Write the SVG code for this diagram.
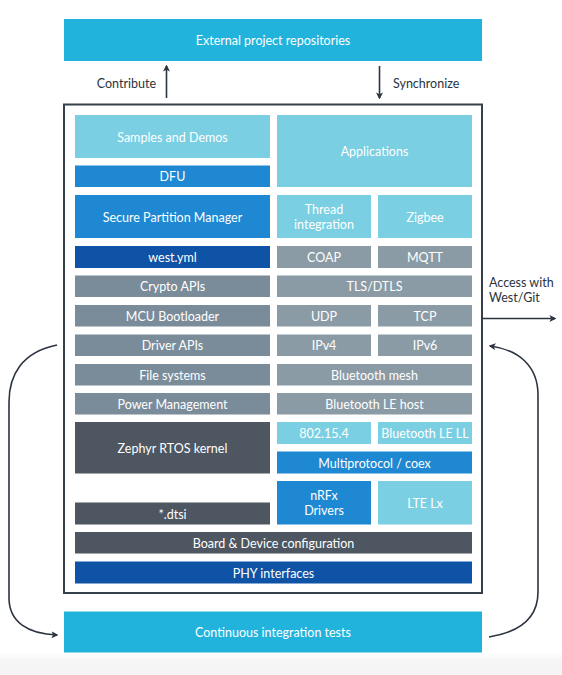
<svg xmlns="http://www.w3.org/2000/svg" width="562" height="675" viewBox="0 0 562 675">
<defs>
<marker id="ah" viewBox="0 0 10 10" refX="8" refY="5" markerWidth="7" markerHeight="7" markerUnits="userSpaceOnUse" orient="auto">
<path d="M0,0 L10,5 L0,10 L2.5,5 z" fill="#2b3440"/>
</marker>
<linearGradient id="band" x1="0" y1="0" x2="0" y2="1">
<stop offset="0" stop-color="#ffffff"/>
<stop offset="0.35" stop-color="#f6f6f6"/>
<stop offset="1" stop-color="#f5f5f5"/>
</linearGradient>
</defs>
<style>
text{font-family:"Lato","Liberation Sans",sans-serif;font-size:12.5px;text-anchor:middle;fill:#ffffff}
.lbl{fill:#2b333d;font-size:12.5px}
.cyan{fill:#22b3dc}
.lc{fill:#7acfe3}
.mb{fill:#1e88d2}
.db{fill:#0e53a5}
.g1{fill:#7a8c9a}
.g2{fill:#8a9ba6}
.ds{fill:#4d5661}
.conn{fill:none;stroke:#2b3440;stroke-width:1.6}
</style>
<rect x="0" y="652" width="562" height="23" fill="url(#band)"/>
<g id="ext"><rect class="cyan" x="64" y="19" width="418" height="42"/><text x="273" y="45">External project repositories</text></g>
<g id="frame"><rect x="64" y="104.5" width="418" height="488.5" fill="none" stroke="#36404b" stroke-width="2"/></g>
<g id="samples"><rect class="lc" x="75" y="115" width="195" height="43"/><text x="172.5" y="141.5">Samples and Demos</text></g>
<g id="dfu"><rect class="mb" x="75" y="165.5" width="195" height="21.5"/><text x="172.5" y="181">DFU</text></g>
<g id="spm"><rect class="mb" x="75" y="195" width="195" height="43"/><text x="172.5" y="221.5">Secure Partition Manager</text></g>
<g id="west"><rect class="db" x="75" y="246" width="195" height="22"/><text x="172.5" y="262">west.yml</text></g>
<g id="crypto"><rect class="g1" x="75" y="275.5" width="195" height="21.5"/><text x="172.5" y="291">Crypto APIs</text></g>
<g id="mcu"><rect class="g1" x="75" y="305" width="195" height="21.5"/><text x="172.5" y="320.5">MCU Bootloader</text></g>
<g id="driver"><rect class="g1" x="75" y="334.5" width="195" height="21.5"/><text x="172.5" y="350">Driver APIs</text></g>
<g id="files"><rect class="g1" x="75" y="364" width="195" height="21.5"/><text x="172.5" y="379.5">File systems</text></g>
<g id="power"><rect class="g1" x="75" y="393" width="195" height="21.5"/><text x="172.5" y="408.5">Power Management</text></g>
<g id="zephyr"><rect class="ds" x="75" y="422" width="195" height="51.5"/><text x="172.5" y="452.5">Zephyr RTOS kernel</text></g>
<g id="dtsi"><rect class="ds" x="75" y="502.5" width="195" height="22"/><text x="172.5" y="518.5">*.dtsi</text></g>
<g id="apps"><rect class="lc" x="277" y="115" width="195" height="72"/><text x="374.5" y="156">Applications</text></g>
<g id="thread"><rect class="lc" x="277" y="195" width="94" height="43"/><text x="324" y="213.5">Thread</text><text x="324" y="228.5">integration</text></g>
<g id="zigbee"><rect class="lc" x="378" y="195" width="94" height="43"/><text x="425" y="221.5">Zigbee</text></g>
<g id="coap"><rect class="g2" x="277" y="246" width="94" height="22"/><text x="324" y="262">COAP</text></g>
<g id="mqtt"><rect class="g2" x="378" y="246" width="94" height="22"/><text x="425" y="262">MQTT</text></g>
<g id="tls"><rect class="g2" x="277" y="275.5" width="195" height="21.5"/><text x="374.5" y="291">TLS/DTLS</text></g>
<g id="udp"><rect class="g2" x="277" y="305" width="94" height="21.5"/><text x="324" y="320.5">UDP</text></g>
<g id="tcp"><rect class="g2" x="378" y="305" width="94" height="21.5"/><text x="425" y="320.5">TCP</text></g>
<g id="ipv4"><rect class="g2" x="277" y="334.5" width="94" height="21.5"/><text x="324" y="350">IPv4</text></g>
<g id="ipv6"><rect class="g2" x="378" y="334.5" width="94" height="21.5"/><text x="425" y="350">IPv6</text></g>
<g id="btmesh"><rect class="g2" x="277" y="364" width="195" height="21.5"/><text x="374.5" y="379.5">Bluetooth mesh</text></g>
<g id="bthost"><rect class="g2" x="277" y="393" width="195" height="21.5"/><text x="374.5" y="408.5">Bluetooth LE host</text></g>
<g id="ieee"><rect class="lc" x="277" y="422" width="94" height="22"/><text x="324" y="438">802.15.4</text></g>
<g id="btll"><rect class="lc" x="378" y="422" width="94" height="22"/><text x="425" y="438">Bluetooth LE LL</text></g>
<g id="multi"><rect class="mb" x="277" y="451.5" width="195" height="22"/><text x="374.5" y="467.5">Multiprotocol / coex</text></g>
<g id="nrfx"><rect class="mb" x="277" y="481" width="94" height="43.5"/><text x="324" y="499.5">nRFx</text><text x="324" y="514.5">Drivers</text></g>
<g id="lte"><rect class="lc" x="378" y="481" width="94" height="43.5"/><text x="425" y="507.5">LTE Lx</text></g>
<g id="board"><rect class="ds" x="75" y="532" width="397" height="21.5"/><text x="273.5" y="547.5">Board &amp; Device configuration</text></g>
<g id="phy"><rect class="db" x="75" y="561.5" width="397" height="22"/><text x="273.5" y="577.5">PHY interfaces</text></g>
<g id="ci"><rect class="cyan" x="64" y="611.5" width="418" height="41"/><text x="273" y="637">Continuous integration tests</text></g>
<g id="labels">
<text class="lbl" x="156" y="88" style="text-anchor:end">Contribute</text>
<text class="lbl" x="393" y="88" style="text-anchor:start">Synchronize</text>
<text class="lbl" x="489" y="287" style="text-anchor:start">Access with</text>
<text class="lbl" x="489" y="302" style="text-anchor:start">West/Git</text>
</g>
<g id="connectors">
<line class="conn" x1="166.5" y1="98" x2="166.5" y2="66" marker-end="url(#ah)"/>
<line class="conn" x1="379.5" y1="66" x2="379.5" y2="98" marker-end="url(#ah)"/>
<line class="conn" x1="482" y1="318.5" x2="555" y2="318.5" marker-end="url(#ah)"/>
<path class="conn" d="M57,345 C22,352 9,375 9,402 L9,598 C9,622 28,634 57,635" marker-end="url(#ah)"/>
<path class="conn" d="M489,637 C520,632 538,618 538,592 L538,395 C538,367 520,350 490,346" marker-end="url(#ah)"/>
</g>
</svg>
